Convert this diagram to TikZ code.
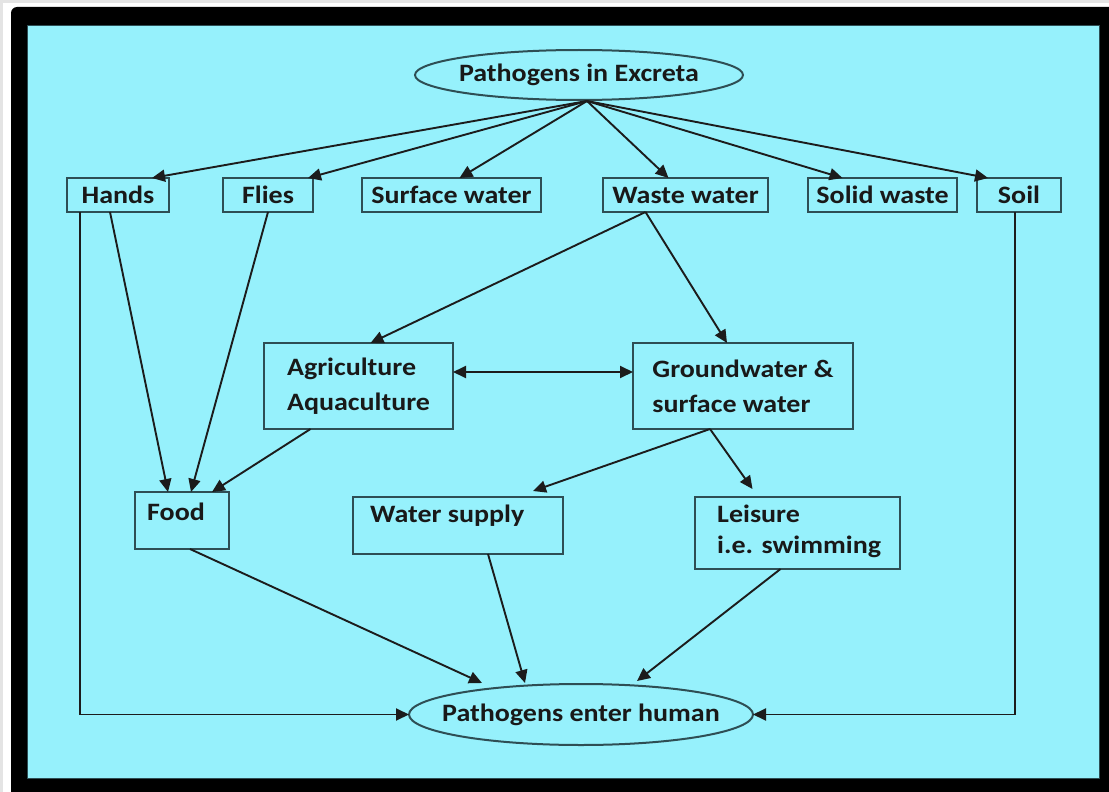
\documentclass[tikz,border=0pt]{standalone}
\usepackage{fontspec}
\setmainfont{Carlito}[FakeStretch=1.12]
\usetikzlibrary{arrows.meta,calc,shapes.geometric}
\definecolor{bgcyan}{RGB}{150,241,252}
\definecolor{boxline}{RGB}{46,78,84}
\definecolor{arrowline}{RGB}{28,28,28}
\definecolor{outergray}{RGB}{228,228,228}
\definecolor{txtcol}{RGB}{25,25,25}
\begin{document}
\begin{tikzpicture}[x=1pt,y=-1pt,
  box/.style={draw=boxline, line width=2.2pt, inner sep=0pt, outer sep=0pt,
    font=\fontsize{25}{35}\selectfont\bfseries, text=txtcol},
  oval/.style={ellipse, draw=boxline, line width=2pt, inner sep=0pt, outer sep=0pt},
  lbl/.style={inner sep=0pt, font=\fontsize{25}{32}\selectfont\bfseries, text=txtcol},
  conn/.style={draw=arrowline, line width=1.9pt, -{Triangle[length=13pt,width=12pt]}},
  biconn/.style={draw=arrowline, line width=1.9pt, {Triangle[length=13pt,width=12pt]}-{Triangle[length=13pt,width=12pt]}},
]
\useasboundingbox (0,0) rectangle (1109,792);
\clip (0,0) rectangle (1109,792);
% frame
\fill[outergray] (0,0) rectangle (1109,792);
\fill[white] (3,3) rectangle (1109,792);
\fill[black, rounded corners=6pt] (11,7) rectangle (1140,820);
\filldraw[fill=bgcyan, draw=boxline, line width=0.8pt] (27,25) rectangle (1099,778);

% nodes
\node[oval, minimum width=328pt, minimum height=50pt] (excreta) at (579,75) {};
\node[lbl] (excretat) at (excreta.center) {Pathogens in Excreta};
\node[box, minimum width=102pt, minimum height=34pt] (hands) at (118,195) {Hands};
\node[box, minimum width=90pt, minimum height=34pt] (flies) at (268,195) {Flies};
\node[box, minimum width=179pt, minimum height=34pt] (surf) at (451.5,195) {Surface water};
\node[box, minimum width=165pt, minimum height=34pt] (waste) at (685.5,195) {Waste water};
\node[box, minimum width=149pt, minimum height=34pt] (solid) at (882.5,195) {Solid waste};
\node[box, minimum width=84pt, minimum height=34pt] (soil) at (1019,195) {Soil};
\node[box, minimum width=189pt, minimum height=86pt, align=left] (agri) at (358.5,386) {Agriculture\\Aquaculture};
\node[box, minimum width=220pt, minimum height=86pt, align=left] (ground) at (743,386) {Groundwater \&\\surface water};
\node[box, minimum width=94pt, minimum height=57pt] (food) at (182,520.5) {};
\node[lbl, anchor=base west] (foodt) at ($(food.north west)+(12,28)$) {Food};
\node[box, minimum width=210pt, minimum height=57pt] (water) at (458,525.5) {};
\node[lbl, anchor=base west] (watert) at ($(water.north west)+(17,25)$) {Water supply};
\node[box, minimum width=205pt, minimum height=72pt] (leisure) at (797.5,533) {};
\node[lbl, anchor=base west] (leisuret1) at ($(leisure.north west)+(22,25)$) {Leisure};
\node[lbl, anchor=base west] (leisuret2) at ($(leisure.north west)+(22,56)$) {i.e. swimming};
\node[oval, minimum width=344pt, minimum height=61pt] (human) at (581,714.5) {};
\node[lbl] (humant) at (human.center) {Pathogens enter human};

% connectors from excreta
\coordinate (ex0) at ($(excreta.south)+(8,1)$);
\draw[conn] (ex0) -- ($(hands.north)+(34,0)$);
\draw[conn] (ex0) -- ($(flies.north)+(40,0)$);
\draw[conn] (ex0) -- ($(surf.north)+(8,0)$);
\draw[conn] (ex0) -- ($(waste.north)+(-17,0)$);
\draw[conn] (ex0) -- ($(solid.north)+(-40,0)$);
\draw[conn] (ex0) -- ($(soil.north)+(-31,0)$);

% to food
\draw[conn] ($(hands.south)+(-8,0)$) -- ($(food.north)+(-14,0)$);
\draw[conn] (flies.south) -- ($(food.north)+(9,0)$);
\draw[conn] ($(agri.south)+(-48,0)$) -- ($(food.north)+(30,0)$);

% waste water
\draw[conn] ($(waste.south)+(-40,0)$) -- ($(agri.north)+(12,0)$);
\draw[conn] ($(waste.south)+(-40,0)$) -- ($(ground.north)+(-16,0)$);
\draw[biconn] ($(agri.east)+(0,-14)$) -- ($(ground.west)+(0,-14)$);

% groundwater
\draw[conn] ($(ground.south)+(-33,0)$) -- ($(water.north)+(75,-6)$);
\draw[conn] ($(ground.south)+(-33,0)$) -- ($(leisure.north)+(-45,-8)$);

% to human
\draw[conn] ($(food.south)+(8,0)$) -- ($(human.north)+(-99,-1)$);
\draw[conn] ($(water.south)+(30,0)$) -- ($(human.north)+(-56,-1)$);
\draw[conn] ($(leisure.south)+(-17,0)$) -- ($(human.north)+(56,-3)$);
\draw[conn] ($(hands.south west)+(13,0)$) |- (human.west);
\draw[conn] ($(soil.south)+(-4,0)$) |- (human.east);
\end{tikzpicture}
\end{document}
